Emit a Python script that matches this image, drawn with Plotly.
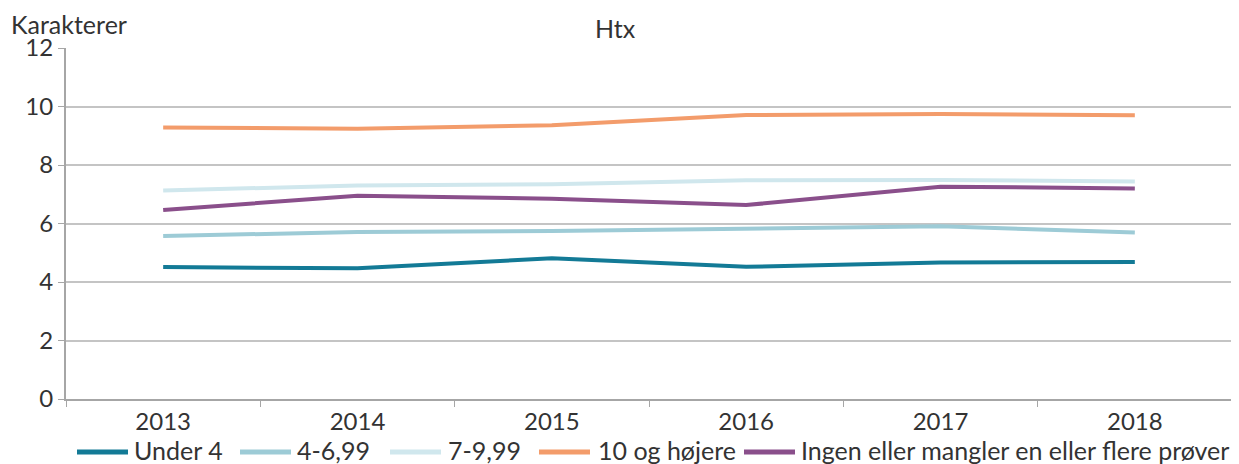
import plotly.graph_objects as go

years = ["2013", "2014", "2015", "2016", "2017", "2018"]
under4 = [4.51, 4.47, 4.81, 4.52, 4.67, 4.68]
s4_699 = [5.57, 5.71, 5.74, 5.81, 5.91, 5.69]
s7_999 = [7.13, 7.30, 7.34, 7.48, 7.49, 7.44]
s10 = [9.28, 9.24, 9.36, 9.71, 9.74, 9.70]
ingen = [6.46, 6.95, 6.85, 6.63, 7.26, 7.20]

names = ["Under 4", "4-6,99", "7-9,99", "10 og højere", "Ingen eller mangler en eller flere prøver"]
series = [under4, s4_699, s7_999, s10, ingen]
colors = ["#137a96", "#9dcbd6", "#d0e7ed", "#f39c6b", "#8a4f8b"]

# legend layout (page pixels): symbol start, symbol end, text start
legend_pos = [(75, 130, 133), (238, 293, 296), (388, 443, 447), (537, 592, 597), (742, 797, 800)]

FONT = "Lato, 'Open Sans', sans-serif"
TXT = "#333333"

# page geometry (the page body has an 8px margin)
OFF = 8
W, H = 1239 - OFF, 464 - OFF
PL, PR, PT, PB = 66, 1232, 48, 399  # plot area in page pixels


def px(X):
    return (X - PL) / (PR - PL)


def py(Y):
    return (PB - Y) / (PB - PT)


fig = go.Figure()
for n, s, c in zip(names, series, colors):
    fig.add_trace(go.Scatter(x=years, y=s, name=n, mode="lines",
                             line=dict(color=c, width=4), showlegend=False))

annotations = [
    dict(text="Htx", x=px(615), xref="paper", y=py(28), yref="paper", yanchor="middle",
         xanchor="center", showarrow=False, borderpad=0, font=dict(size=25, color=TXT)),
    dict(text="Karakterer", x=px(10), xref="paper", y=py(24), yref="paper",
         yanchor="middle", xanchor="left", showarrow=False, borderpad=0,
         font=dict(size=25, color=TXT)),
]
shapes = []
LY = 452
for n, c, (a, b, t) in zip(names, colors, legend_pos):
    shapes.append(dict(type="line", xref="paper", yref="paper", x0=px(a + 2), x1=px(b - 2),
                       y0=py(LY), y1=py(LY), line=dict(color=c, width=5)))
    annotations.append(dict(text=n, x=px(t), xref="paper", y=py(LY - 2), yref="paper",
                            xanchor="left", yanchor="middle", showarrow=False, borderpad=0,
                            font=dict(size=25, color=TXT)))

fig.update_layout(
    width=W, height=H,
    margin=dict(l=PL - OFF, r=W - (PR - OFF), t=PT - OFF, b=H - (PB - OFF), autoexpand=False),
    plot_bgcolor="white", paper_bgcolor="white",
    font=dict(family=FONT, size=24, color=TXT),
    showlegend=False,
    annotations=annotations,
    shapes=shapes,
)

fig.update_xaxes(type="category", range=[-0.5, 5.5], tickson="boundaries", automargin=False,
                 ticks="outside", ticklen=6, tickcolor="#a6a6a6",
                 showline=True, linecolor="#a6a6a6", linewidth=2,
                 showgrid=False, tickfont=dict(size=24, color=TXT))
fig.update_yaxes(range=[0, 12], dtick=2, ticks="outside", ticklen=6, tickcolor="#a6a6a6",
                 showline=True, linecolor="#a6a6a6", linewidth=2, automargin=False,
                 showgrid=True, gridcolor="#c4c4c4", gridwidth=2, zeroline=False,
                 tickfont=dict(size=24, color=TXT))

fig.write_html("out.html")
